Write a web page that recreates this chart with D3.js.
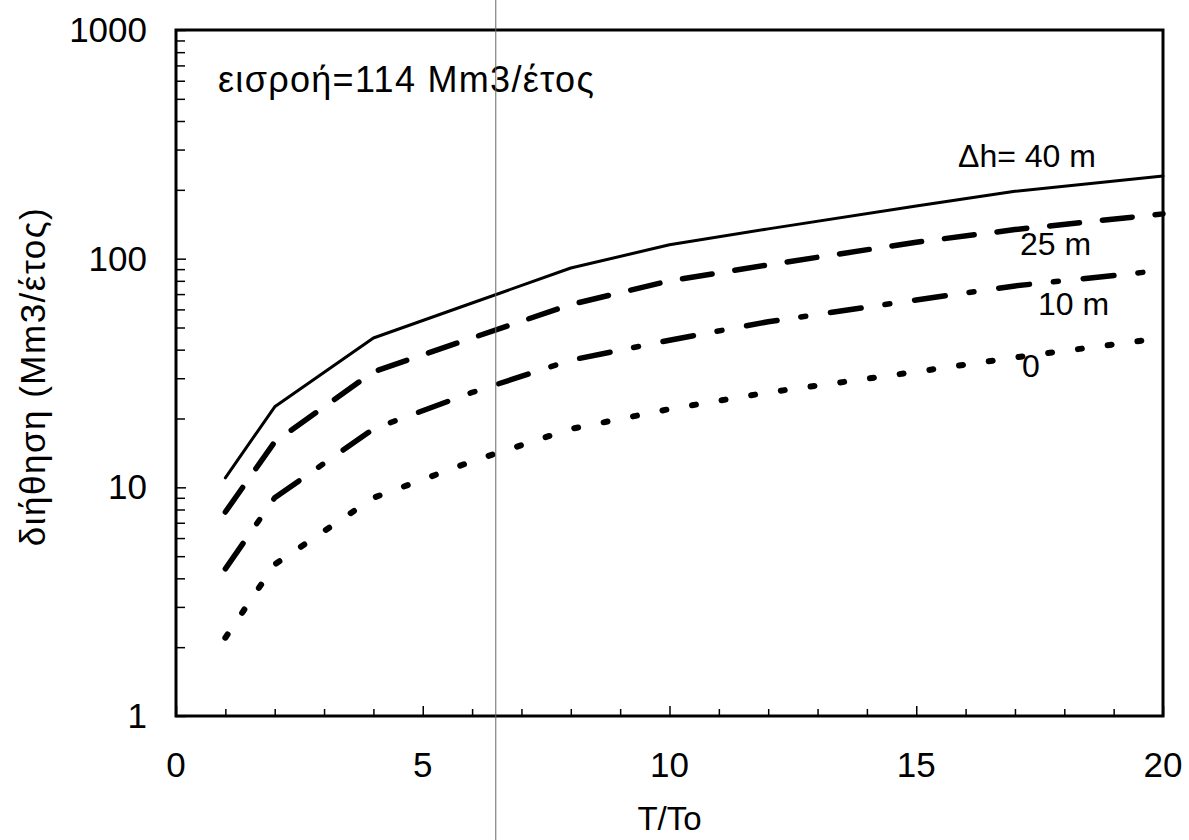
<!DOCTYPE html>
<html>
<head>
<meta charset="utf-8">
<script src="https://cdn.jsdelivr.net/npm/d3@7"></script>
<style>
  html, body { margin: 0; padding: 0; background: #fff; }
  svg { display: block; font-family: "Liberation Sans", Arial, sans-serif; }
</style>
</head>
<body>
<svg id="chart" width="1189" height="840"></svg>
<script>
// ---- data ----
const xValues = [1, 2, 4, 6, 8, 10, 12, 15, 17, 20];
const dh40 = [11, 22.5, 45, 64, 91, 115, 135, 170, 197, 230];
const dh25 = [7.8, 15.8, 32, 45, 63, 80, 94, 118, 134, 157];
const dh10 = [4.4, 9, 18, 26, 36, 44, 53, 66, 76, 89];
const dh0  = [2.2, 4.6, 9, 13, 18, 22, 26, 32, 37, 45];
const seriesNames = ["Δh= 40 m", "25 m", "10 m", "0"];
const xTickLabels = [0, 5, 10, 15, 20];
const yTickLabels = [1, 10, 100, 1000];
const titleText = "εισροή=114 Mm3/έτος";
const xAxisTitle = "T/To";
const yAxisTitle = "διήθηση (Mm3/έτος)";
const foldLineX = 6.48;

// ---- layout ----
const svg = d3.select("#chart");
const pLeft = 176, pRight = 1163, pTop = 30, pBottom = 716;
const x = d3.scaleLinear().domain([0, 20]).range([pLeft, pRight]);
const y = d3.scaleLog().domain([1, 1000]).range([pBottom, pTop]);

// ---- series ----
const series = [
  { name: seriesNames[0], values: dh40, width: 3,   dash: null,          lx: 958,  ly: 167 },
  { name: seriesNames[1], values: dh25, width: 5.5, dash: "30 23",       lx: 1020, ly: 255 },
  { name: seriesNames[2], values: dh10, width: 5.5, dash: "31 24 5 25",  lx: 1038, ly: 315 },
  { name: seriesNames[3], values: dh0,  width: 6,   dash: "4 26",        lx: 1022, ly: 377 }
];

const line = d3.line()
  .x((d, i) => x(xValues[i]))
  .y(d => y(d));

// labels drawn first so that lines overlap them like the reference
const labelG = svg.append("g");
series.forEach(s => {
  labelG.append("text")
    .attr("x", s.lx).attr("y", s.ly)
    .attr("font-size", 32)
    .attr("fill", "#000")
    .text(s.name);
});

series.forEach(s => {
  svg.append("path")
    .datum(s.values)
    .attr("d", line)
    .attr("fill", "none")
    .attr("stroke", "#000")
    .attr("stroke-width", s.width)
    .attr("stroke-linecap", "round")
    .attr("stroke-linejoin", "round")
    .attr("stroke-dasharray", s.dash);
});

// ---- axes (ticks inward) ----
const xAxis = d3.axisBottom(x)
  .tickValues(d3.range(0, 21, 1))
  .tickSize(0)
  .tickFormat("");
const xg = svg.append("g").attr("transform", `translate(0,${pBottom})`).call(xAxis);
xg.select(".domain").remove();
xg.selectAll(".tick line")
  .attr("y2", d => (d % 5 === 0 ? -10 : -7))
  .attr("stroke", "#000").attr("stroke-width", 1.5);

const yMinor = [];
[1, 10, 100].forEach(dec => { for (let k = 2; k <= 9; k++) yMinor.push(dec * k); });
const yAxis = d3.axisLeft(y)
  .tickValues(yTickLabels.concat(yMinor))
  .tickSize(0)
  .tickFormat("");
const yg = svg.append("g").attr("transform", `translate(${pLeft},0)`).call(yAxis);
yg.select(".domain").remove();
yg.selectAll(".tick line")
  .attr("x2", d => (yTickLabels.includes(d) ? 10 : 9))
  .attr("stroke", "#000").attr("stroke-width", 1.5);

// tick labels
svg.append("g").selectAll("text")
  .data(xTickLabels).join("text")
  .attr("x", d => x(d)).attr("y", 777)
  .attr("text-anchor", "middle")
  .attr("font-size", 35)
  .text(d => d);

svg.append("g").selectAll("text")
  .data(yTickLabels).join("text")
  .attr("x", 147).attr("y", d => y(d) + 12)
  .attr("text-anchor", "end")
  .attr("font-size", 35)
  .text(d => d);

// frame
svg.append("rect")
  .attr("x", pLeft).attr("y", pTop)
  .attr("width", pRight - pLeft).attr("height", pBottom - pTop)
  .attr("fill", "none").attr("stroke", "#000").attr("stroke-width", 3);

// titles
svg.append("text")
  .attr("x", 218).attr("y", 92)
  .attr("font-size", 36)
  .attr("letter-spacing", 1.3)
  .text(titleText);

svg.append("text")
  .attr("x", x(10)).attr("y", 830)
  .attr("text-anchor", "middle")
  .attr("font-size", 33)
  .text(xAxisTitle);

svg.append("text")
  .attr("transform", `translate(45,${(200 + 553) / 2}) rotate(-90)`)
  .attr("text-anchor", "middle")
  .attr("font-size", 35)
  .attr("letter-spacing", 1.5)
  .text(yAxisTitle);

// thin vertical fold line from the scan
svg.append("line")
  .attr("x1", x(foldLineX)).attr("x2", x(foldLineX))
  .attr("y1", 0).attr("y2", 840)
  .attr("stroke", "#666").attr("stroke-width", 1);
</script>
</body>
</html>
